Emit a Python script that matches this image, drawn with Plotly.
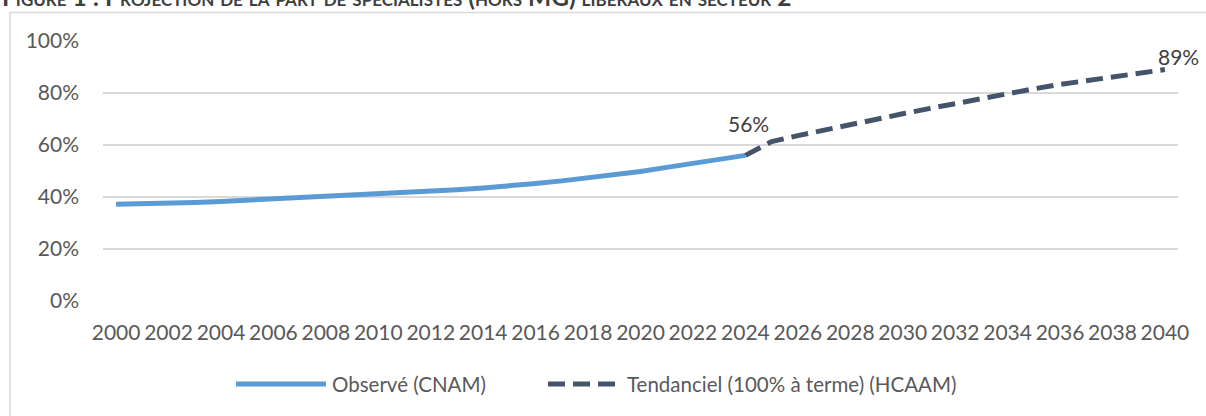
import plotly.graph_objects as go

# ---------------- data ----------------
years_obs = list(range(2000, 2025))
obs_values = [37.2, 37.3, 37.5, 37.9, 38.3, 38.8, 39.2, 39.6, 40.1, 40.6,
              41.0, 41.5, 42.1, 42.8, 43.5, 44.2, 45.2, 46.2, 47.3, 48.5,
              49.8, 51.4, 52.9, 54.5, 56.0]
years_proj = list(range(2024, 2041))
proj_values = [56.0, 61.3, 63.6, 65.8, 67.9, 70.0, 72.0, 74.0, 76.0, 78.0,
               79.9, 81.6, 83.3, 84.8, 86.3, 87.7, 89.0]
x_ticks = list(range(2000, 2041, 2))
y_ticks = [0, 20, 40, 60, 80, 100]
series_names = ["Observé (CNAM)", "Tendanciel (100% à terme) (HCAAM)"]
title_text = "Figure 1 : Projection de la part de spécialistes (hors MG) libéraux en secteur 2"

# ---------------- layout geometry ----------------
W, H = 1206, 416
L, R, T, B = 103, 28, 41, 115
PW, PH = W - L - R, H - T - B

def px(x):
    return (x - L) / PW

def py(y):
    return (H - B - y) / PH

FONT = "Lato, 'Open Sans', Arial, sans-serif"
TXT = "#595959"
BLUE = "#5B9BD5"
SLATE = "#44546A"
GRID = "#D9D9D9"
FS = 21

fig = go.Figure()
fig.add_trace(go.Scatter(
    x=years_obs, y=[v / 100 for v in obs_values], mode="lines",
    name=series_names[0], line=dict(color=BLUE, width=5), showlegend=False))
fig.add_trace(go.Scatter(
    x=years_proj, y=[v / 100 for v in proj_values], mode="lines",
    name=series_names[1], line=dict(color=SLATE, width=5, dash="17px,8px"),
    showlegend=False))

annotations = [
    dict(x=years_obs[-1], y=obs_values[-1] / 100, xref="x", yref="y",
         text=f"{obs_values[-1]:.0f}%", showarrow=False, yshift=32, xshift=3,
         font=dict(family=FONT, size=FS, color="#404040")),
    dict(x=years_proj[-1], y=proj_values[-1] / 100, xref="x", yref="y",
         text=f"{proj_values[-1]:.0f}%", showarrow=False, yshift=13, xshift=14,
         font=dict(family=FONT, size=FS, color="#404040")),
    dict(x=px(0), y=py(-3), xref="paper", yref="paper", xanchor="left",
         yanchor="middle", text=f"<b>{title_text}</b>", showarrow=False,
         font=dict(family=FONT, size=24.5, color="#3F3F3F", variant="small-caps")),
    dict(x=px(330), y=py(384), xref="paper", yref="paper", xanchor="left",
         yanchor="middle", text=series_names[0], showarrow=False,
         font=dict(family=FONT, size=20.5, color=TXT)),
    dict(x=px(625), y=py(384), xref="paper", yref="paper", xanchor="left",
         yanchor="middle", text=series_names[1], showarrow=False,
         font=dict(family=FONT, size=20.5, color=TXT)),
]

shapes = [
    dict(type="rect", xref="paper", yref="paper", x0=px(10), x1=px(1230),
         y0=py(12.5), y1=py(440), line=dict(color=GRID, width=1.5),
         fillcolor="rgba(0,0,0,0)", layer="below"),
    dict(type="line", xref="paper", yref="paper", x0=px(236), x1=px(326),
         y0=py(384), y1=py(384), line=dict(color=BLUE, width=5)),
    dict(type="line", xref="paper", yref="paper", x0=px(548), x1=px(620),
         y0=py(384), y1=py(384), line=dict(color=SLATE, width=5, dash="17px,8px")),
]

fig.update_layout(
    width=W, height=H,
    margin=dict(l=L, r=R, t=T, b=B, pad=0),
    paper_bgcolor="white", plot_bgcolor="white",
    font=dict(family=FONT, size=FS, color=TXT),
    showlegend=False,
    annotations=annotations,
    shapes=shapes,
    xaxis=dict(range=[1999.5, 2040.5], tickmode="array", tickvals=x_ticks,
               ticktext=[str(t) for t in x_ticks], showgrid=False,
               zeroline=False, showline=False, ticks="",
               ticklabelstandoff=17, tickfont=dict(size=FS, color=TXT)),
    yaxis=dict(range=[0, 1], tickmode="array", tickvals=[v / 100 for v in y_ticks],
               ticktext=[f"{v}%" for v in y_ticks], showgrid=True,
               gridcolor=GRID, gridwidth=1.5, zeroline=False, showline=False,
               ticks="", ticklabelstandoff=23, tickfont=dict(size=FS, color=TXT)),
)

fig.write_html(
    "out.html",
    config={"displayModeBar": False},
    post_script="document.body.style.margin='0';document.body.style.overflow='hidden';",
)
